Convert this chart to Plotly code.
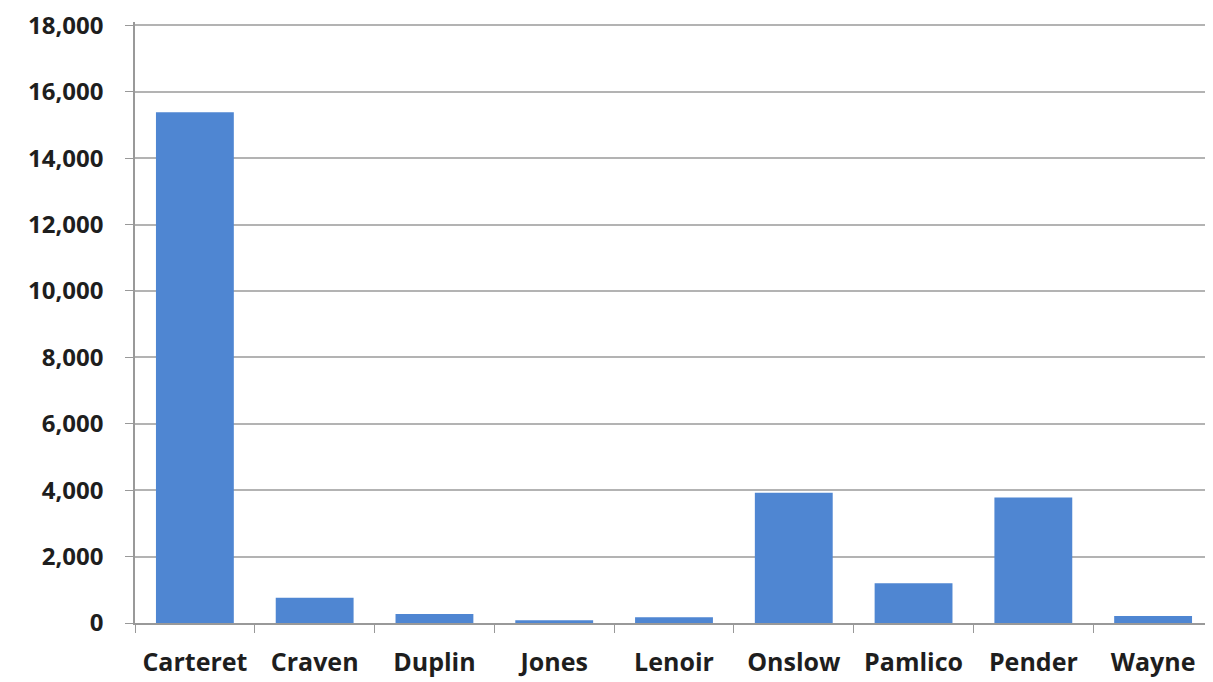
import plotly.graph_objects as go

counties = ["Carteret", "Craven", "Duplin", "Jones", "Lenoir", "Onslow", "Pamlico", "Pender", "Wayne"]
values = [15380, 760, 270, 80, 170, 3920, 1200, 3780, 210]
y_ticks = [0, 2000, 4000, 6000, 8000, 10000, 12000, 14000, 16000, 18000]

fig = go.Figure(go.Bar(x=counties, y=values, marker=dict(color="#4F86D2", line=dict(width=0))))

fig.update_layout(
    width=1213, height=682,
    margin=dict(l=127, r=8, t=14, b=67),
    paper_bgcolor="white", plot_bgcolor="white",
    bargap=0.35,
    showlegend=False,
    font=dict(family="Open Sans", size=25, color="#1e1e1e"),
)
fig.update_xaxes(
    type="category", tickson="boundaries", ticks="outside", ticklen=8, tickcolor="#999999",
    showline=True, linecolor="#999999", linewidth=1.5,
    tickfont=dict(family="Open Sans", size=25, weight="bold"),
    ticklabelstandoff=16,
    showgrid=False, zeroline=False, automargin=False,
)
fig.update_yaxes(
    range=[0, 18100], tickvals=y_ticks, tickformat=",d",
    ticks="outside", ticklen=8, tickcolor="#999999",
    showline=True, linecolor="#999999", linewidth=1.5,
    showgrid=True, gridcolor="#b3b3b3", gridwidth=1.5,
    zeroline=False, automargin=False,
    ticklabelstandoff=17,
    ticklabeloverflow="allow",
    tickfont=dict(family="Open Sans", size=24, weight="bold"),
)
fig.write_html("out.html")
